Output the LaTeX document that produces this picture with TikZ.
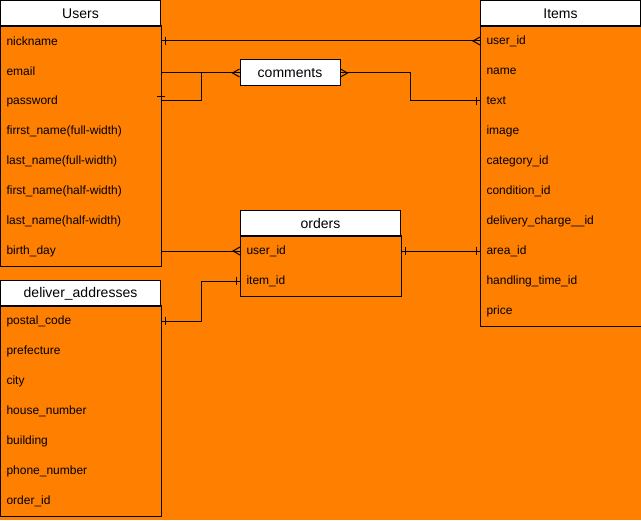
\documentclass[tikz,border=0pt]{standalone}
\usepackage{fontspec}
\setmainfont{Liberation Sans}
\usetikzlibrary{positioning,decorations.markings}
\definecolor{erorange}{HTML}{FF8000}
\tikzset{
  head/.style={draw,fill=white,anchor=north west,minimum width=120pt,minimum height=19.5pt,inner sep=0pt,font=\fontsize{10.5}{12}\selectfont},
  field/.style={anchor=west,text width=111pt,inner xsep=4.5pt,inner ysep=0pt,minimum height=22.5pt,font=\fontsize{9}{11}\selectfont},
  one start/.style={postaction={decorate,decoration={markings,mark=at position 3pt with {\draw (0,-3pt) -- (0,3pt);}}}},
  one end/.style={postaction={decorate,decoration={markings,mark=at position -3pt with {\draw (0,-3pt) -- (0,3pt);}}}},
  many start/.style={postaction={decorate,decoration={markings,mark=at position 5.25pt with {\draw (-5.25pt,3pt) -- (0,0) -- (-5.25pt,-3pt);}}}},
  many end/.style={postaction={decorate,decoration={markings,mark=at position -5.25pt with {\draw (5.25pt,3pt) -- (0,0) -- (5.25pt,-3pt);}}}}
}
\begin{document}
\begin{tikzpicture}[x=0.75pt,y=-0.75pt,line width=0.75pt]
  \fill[erorange] (0,0) rectangle (641,520);
  \useasboundingbox (0,0) rectangle (641,520);
  % Users
  \node[head] (ut) at (0,0) {Users};
  \foreach \t [count=\i] in {nickname,email,password,firrst\_name(full-width),last\_name(full-width),first\_name(half-width),last\_name(half-width),birth\_day}
    \node[field] (u\i) at (0,11+30*\i) {\t};
  \draw (u1.north west) rectangle (u8.south east);
  % Items
  \node[head] (it) at (480,0) {Items};
  \foreach \t [count=\i] in {user\_id,name,text,image,category\_id,condition\_id,delivery\_charge\_\_id,area\_id,handling\_time\_id,price}
    \node[field] (i\i) at (480,11+30*\i) {\t};
  \draw (i1.north west) rectangle (i10.south east);
  % orders
  \node[head] (ot) at (240,210) {orders};
  \foreach \t [count=\i] in {user\_id,item\_id}
    \node[field] (o\i) at (240,221+30*\i) {\t};
  \draw (o1.north west) rectangle (o2.south east);
  % deliver_addresses
  \node[head] (dt) at (0,280) {deliver\_addresses};
  \foreach \t [count=\i] in {postal\_code,prefecture,city,house\_number,building,phone\_number,order\_id}
    \node[field] (d\i) at (0,291+30*\i) {\t};
  \draw (d1.north west) rectangle (d7.south east);
  % comments
  \node[head,anchor=center,minimum width=75pt] (cm) at (290,73) {comments};
  % relations
  \draw[one start,many end] (u1.east) -- (i1.west);
  \draw[many end] (u2.east |- cm.west) -- (cm.west);
  \draw (u3.east) -- ++(40,0) |- (cm.west);
  \draw ([xshift=-3pt,yshift=3pt]u3.east) -- ++(6pt,0);
  \draw[many start,one end] (cm.east) -- ++(70,0) |- (i3.west);
  \draw[many end] (u8.east) -- (o1.west);
  \draw[one start,one end] (d1.east) -- ++(40,0) |- (o2.west);
  \draw[one start,one end] (o1.east) -- (i8.west);
\end{tikzpicture}
\end{document}
